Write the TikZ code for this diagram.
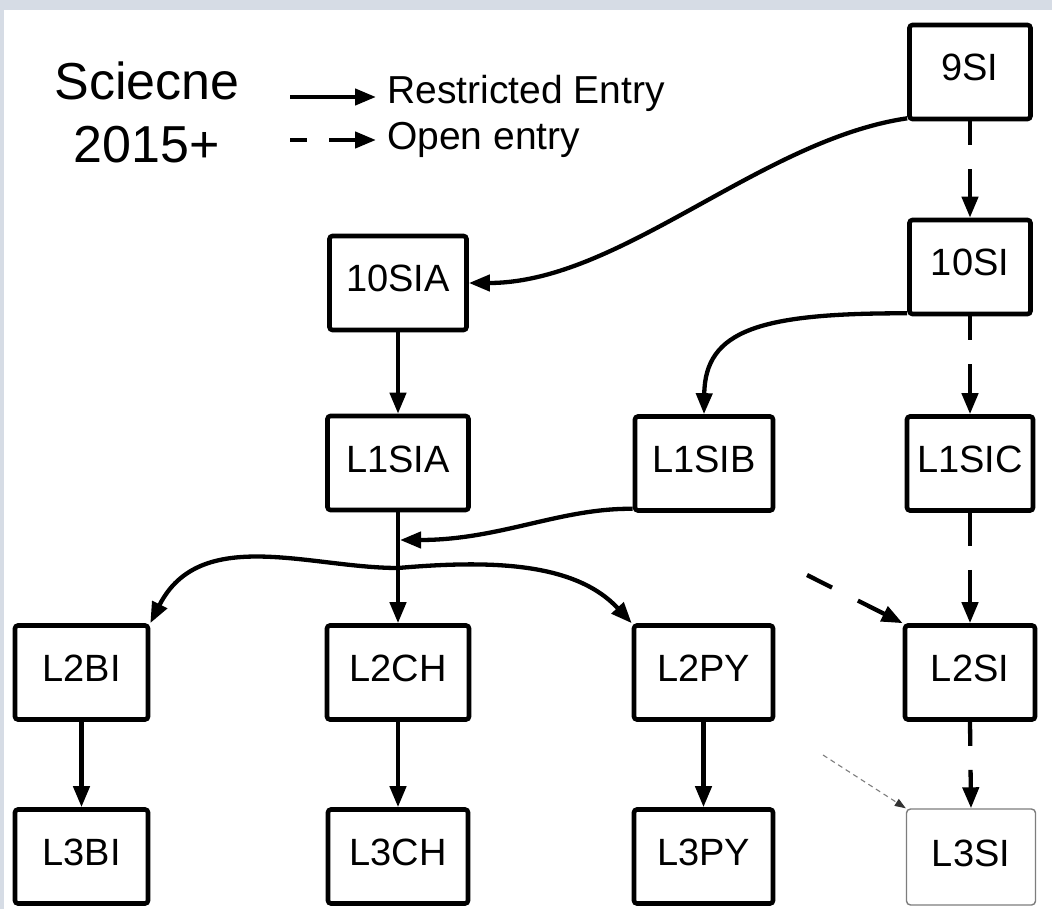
\documentclass[tikz,border=0pt]{standalone}
\usepackage{fontspec}
\setmainfont{Liberation Sans}
\usetikzlibrary{arrows.meta,calc}
\definecolor{band}{RGB}{214,220,229}
\definecolor{thingray}{RGB}{125,125,125}
\begin{document}
\begin{tikzpicture}[x=1pt,y=-1pt,
  box/.style={draw,line width=4.6pt,rounded corners=3pt,inner sep=0pt,minimum height=94pt,
    font=\fontsize{38}{44}\selectfont,text height=27pt,text depth=9pt},
  thinbox/.style={box,draw=thingray,line width=1.4pt,rounded corners=4pt,minimum height=96pt},
  restr/.style={line width=4.3pt,-{Triangle[length=21pt,width=16pt]}},
  open/.style={restr,dash pattern=on 24pt off 24pt on 300pt},
  faint/.style={draw=thingray,line width=1.1pt,dash pattern=on 5pt off 4pt,
    -{Triangle[length=11pt,width=8pt,color=black!80]}},
  legtext/.style={inner sep=0pt,font=\fontsize{39}{44}\selectfont},
  titletext/.style={inner sep=0pt,font=\fontsize{52}{60}\selectfont}
]
\useasboundingbox (0,0) rectangle (1052,909);
\fill[band] (0,0) rectangle (1052,909);
\fill[white] (4,10) rectangle (1052,909);

% legend
\node[titletext,anchor=base] (t1) at (147,100) {Sciecne};
\node[titletext,anchor=base] (t2) at (147,163) {2015+};
\coordinate (ls1) at (290,97);
\coordinate (le1) at (376,97);
\coordinate (ls2) at (290,140);
\coordinate (le2) at (376,140);
\draw[restr] (ls1) -- (le1);
\draw[restr,dash pattern=on 17pt off 22pt on 100pt] (ls2) -- (le2);
\node[legtext,anchor=base west] (lr) at (387,104) {Restricted Entry};
\node[legtext,anchor=base west] (lo) at (387,150) {Open entry};

% nodes
\node[box,minimum width=121pt] (n9)   at (970,72)    {9SI};
\node[box,minimum width=121pt] (n10)  at (970,267)   {10SI};
\node[box,minimum width=137pt] (n10a) at (398,283)   {10SIA};
\node[box,minimum width=141pt] (l1a)  at (398,463)   {L1SIA};
\node[box,minimum width=138pt] (l1b)  at (704,463.5) {L1SIB};
\node[box,minimum width=126pt] (l1c)  at (970,463.5) {L1SIC};
\node[box,minimum width=133pt] (l2bi) at (81.5,672.5)  {L2BI};
\node[box,minimum width=142pt] (l2ch) at (398,672.5)   {L2CH};
\node[box,minimum width=139pt] (l2py) at (703.5,672.5) {L2PY};
\node[box,minimum width=130pt] (l2si) at (970,672.5)   {L2SI};
\node[box,minimum width=133pt] (l3bi) at (81.5,856.5)  {L3BI};
\node[box,minimum width=140pt] (l3ch) at (398,856.5)   {L3CH};
\node[box,minimum width=139pt] (l3py) at (703.5,856.5) {L3PY};
\node[thinbox,minimum width=129pt] (l3si) at (971,857) {L3SI};

% junctions and free ends
\coordinate (j1) at (400,540);
\coordinate (j2) at (398,568);
\coordinate (f1) at (807,575);
\coordinate (f2) at (823,755);

% open entry (dashed)
\draw[open] (n9.south) -- (n10.north);
\draw[open] (n10.south) -- (l1c.north);
\draw[open,dash pattern=on 33pt off 24pt on 300pt] (l1c.south) -- (l2si.north);
\draw[open] (l2si.south) -- (l3si.north);
\draw[restr,dash pattern=on 28pt off 29pt on 300pt] (f1) -- (l2si.north west);
\draw[faint] (f2) -- (l3si.north west);

% restricted entry (solid)
\draw[restr] ([yshift=3pt]n9.south west) .. controls (760,140) and (620,283) .. (n10a.east);
\draw[restr] ([yshift=3pt]n10.south west) .. controls (760,313) and (705,330) .. (l1b.north);
\draw[restr] (n10a.south) -- (l1a.north);
\draw[restr] (l1a.south) -- (l2ch.north);
\draw[restr] ([yshift=4pt]l1b.south west) .. controls (560,508) and (500,540) .. (j1);
\draw[restr] (j2) .. controls (310,568) and (200,525) .. (l2bi.north east);
\draw[restr] (j2) .. controls (490,560) and (575,562) .. (l2py.north west);
\draw[restr] (l2bi.south) -- (l3bi.north);
\draw[restr] (l2ch.south) -- (l3ch.north);
\draw[restr] (l2py.south) -- (l3py.north);
\end{tikzpicture}
\end{document}
